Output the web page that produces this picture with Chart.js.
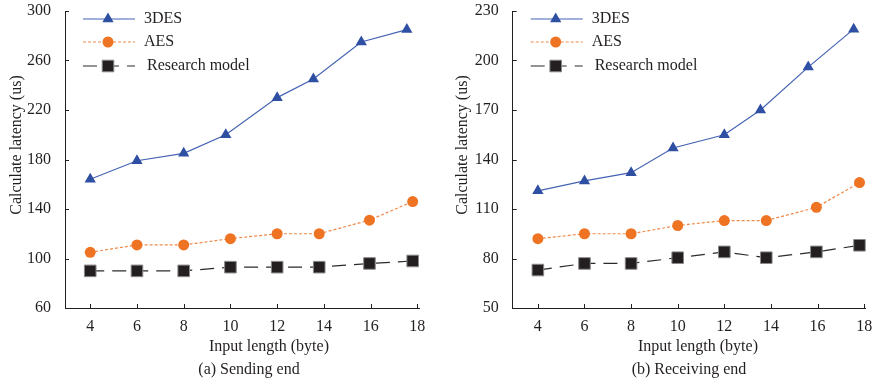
<!DOCTYPE html>
<html>
<head>
<meta charset="utf-8">
<script src="https://cdn.jsdelivr.net/npm/chart.js@4"></script>
<style>
  html, body { margin: 0; padding: 0; background: #fff; }
  .panel { position: absolute; top: 0; height: 385px; }
  #left { left: 0; width: 440px; }
  #right { left: 440px; width: 435px; }
</style>
</head>
<body>
<div class="panel" id="left"><canvas id="sendChart"></canvas></div>
<div class="panel" id="right"><canvas id="recvChart"></canvas></div>
<script>
// x positions (input length, byte) as plotted in the figure
const xTicks = [4, 6, 8, 10, 12, 14, 16, 18];
const desX = [4, 6, 8, 9.8, 12, 13.55, 15.6, 17.55];
const aesX = [4, 6, 8, 10, 12, 13.8, 15.95, 17.8];
const modelX = [4, 6, 8, 10, 12, 13.8, 15.95, 17.8];

// (a) sending end, latency in us
const sendDes = [164, 179, 185, 200, 230, 245, 275, 285];
const sendAes = [105, 111, 111, 116, 120, 120, 131, 146];
const sendModel = [90, 90, 90, 93, 93, 93, 96, 98];

// (b) receiving end, latency in us
const recvDes = [121, 127, 132, 147, 155, 170, 196, 219];
const recvAes = [92, 95, 95, 100, 103, 103, 111, 126];
const recvModel = [73, 77, 77, 80.5, 84, 80.5, 84, 88];

const seriesNames = ['3DES', 'AES', 'Research model'];

const INK = '#231f20';
const FONT = '"Liberation Serif", "Times New Roman", serif';

function pts(xs, ys) {
    return xs.map((x, i) => ({ x: x, y: ys[i] }));
}

function makeDatasets(des, aes, model) {
    return [
        {
            label: seriesNames[0],
            data: pts(desX, des),
            borderColor: '#4563b3',
            backgroundColor: '#2f4fa3',
            borderWidth: 1.2,
            pointStyle: 'triangle',
            pointRadius: 6.5,
            pointBorderWidth: 0,
            pointBackgroundColor: '#2f4fa3'
        },
        {
            label: seriesNames[1],
            data: pts(aesX, aes),
            borderColor: '#f08a4b',
            backgroundColor: '#ee7424',
            borderWidth: 1.2,
            borderDash: [3, 2],
            pointStyle: 'circle',
            pointRadius: 5.5,
            pointBorderWidth: 0,
            pointBackgroundColor: '#ee7424'
        },
        {
            label: seriesNames[2],
            data: pts(modelX, model),
            borderColor: '#2b2b2b',
            backgroundColor: INK,
            borderWidth: 1.2,
            borderDash: [14, 8],
            pointStyle: 'rect',
            pointRadius: 8.2,
            pointBorderWidth: 1,
            pointBorderColor: '#8a8a8a',
            pointBackgroundColor: INK
        }
    ];
}

// inward ticks, legend with line + marker, axis titles at their places
const paperDecor = {
    id: 'paperDecor',
    afterDraw(chart, args, opts) {
        const ctx = chart.ctx;
        const area = chart.chartArea;
        const xs = chart.scales.x;
        const ys = chart.scales.y;
        ctx.save();

        ctx.strokeStyle = INK;
        ctx.lineWidth = 1;
        ctx.setLineDash([]);
        ctx.beginPath();
        xs.ticks.forEach(t => {
            const px = Math.round(xs.getPixelForValue(t.value)) + 0.5;
            ctx.moveTo(px, area.bottom);
            ctx.lineTo(px, area.bottom - 4);
        });
        ys.ticks.forEach(t => {
            const py = Math.round(ys.getPixelForValue(t.value)) + 0.5;
            ctx.moveTo(area.left, py);
            ctx.lineTo(area.left + 4, py);
        });
        ctx.stroke();

        // legend
        const rows = [19, 42, 66];
        const lx = area.left + 18;
        chart.data.datasets.forEach((ds, i) => {
            const y = rows[i];
            ctx.save();
            ctx.strokeStyle = ds.borderColor;
            ctx.lineWidth = ds.borderWidth;
            ctx.setLineDash(ds.borderDash || []);
            ctx.beginPath();
            ctx.moveTo(lx, y);
            ctx.lineTo(lx + 52, y);
            ctx.stroke();
            ctx.setLineDash([]);
            ctx.fillStyle = ds.pointBackgroundColor;
            ctx.strokeStyle = ds.pointBorderColor || ds.pointBackgroundColor;
            ctx.lineWidth = ds.pointBorderWidth;
            Chart.helpers.drawPoint(ctx, {
                pointStyle: ds.pointStyle,
                radius: ds.pointRadius,
                rotation: 0,
                borderWidth: ds.pointBorderWidth
            }, lx + 25, y);
            ctx.restore();
            ctx.fillStyle = INK;
            ctx.font = '16px ' + FONT;
            ctx.textBaseline = 'middle';
            ctx.textAlign = 'left';
            ctx.fillText(ds.label, area.left + (i === 2 ? 82 : 79), y);
        });

        // axis titles
        ctx.fillStyle = INK;
        ctx.font = '16px ' + FONT;
        ctx.textAlign = 'center';
        ctx.textBaseline = 'middle';
        ctx.fillText('Input length (byte)', opts.xTitleX, 347);
        ctx.fillText(opts.subtitle, opts.subX, 370);

        ctx.translate(opts.yTitleX, 145);
        ctx.rotate(-Math.PI / 2);
        ctx.fillText('Calculate latency (us)', 0, 0);
        ctx.restore();
    }
};

function makeChart(id, datasets, yMin, yMax, yStep, yAxisWidth, rightPad, decor) {
    const ctx = document.getElementById(id).getContext('2d');
    return new Chart(ctx, {
        type: 'line',
        data: { datasets: datasets },
        options: {
            responsive: true,
            maintainAspectRatio: false,
            animation: false,
            layout: { padding: { top: 11, right: rightPad, bottom: 0, left: 0 } },
            plugins: {
                legend: { display: false },
                tooltip: { enabled: false },
                paperDecor: decor
            },
            scales: {
                x: {
                    type: 'linear',
                    min: 2.92,
                    max: 18.07,
                    grid: { display: false },
                    border: { display: true, color: INK, width: 1 },
                    afterBuildTicks: axis => {
                        axis.ticks = xTicks.map(v => ({ value: v }));
                    },
                    afterFit: axis => {
                        axis.height = 77;
                        axis.paddingLeft = 0;
                        axis.paddingRight = 0;
                    },
                    ticks: {
                        color: INK,
                        font: { family: FONT, size: 16 },
                        padding: 1,
                        maxRotation: 0,
                        autoSkip: false
                    }
                },
                y: {
                    min: yMin,
                    max: yMax,
                    grid: { display: false },
                    border: { display: true, color: INK, width: 1 },
                    afterFit: axis => {
                        axis.width = yAxisWidth;
                        axis.paddingTop = 0;
                        axis.paddingBottom = 0;
                    },
                    ticks: {
                        stepSize: yStep,
                        color: INK,
                        font: { family: FONT, size: 16 },
                        padding: 6
                    }
                }
            }
        },
        plugins: [paperDecor]
    });
}

makeChart('sendChart', makeDatasets(sendDes, sendAes, sendModel), 60, 300, 40, 65, 21,
    { xTitleX: 269, subX: 249, yTitleX: 17, subtitle: '(a) Sending end' });
makeChart('recvChart', makeDatasets(recvDes, recvAes, recvModel), 50, 230, 30, 72.7, 8,
    { xTitleX: 258, subX: 249, yTitleX: 23, subtitle: '(b) Receiving end' });
</script>
</body>
</html>
